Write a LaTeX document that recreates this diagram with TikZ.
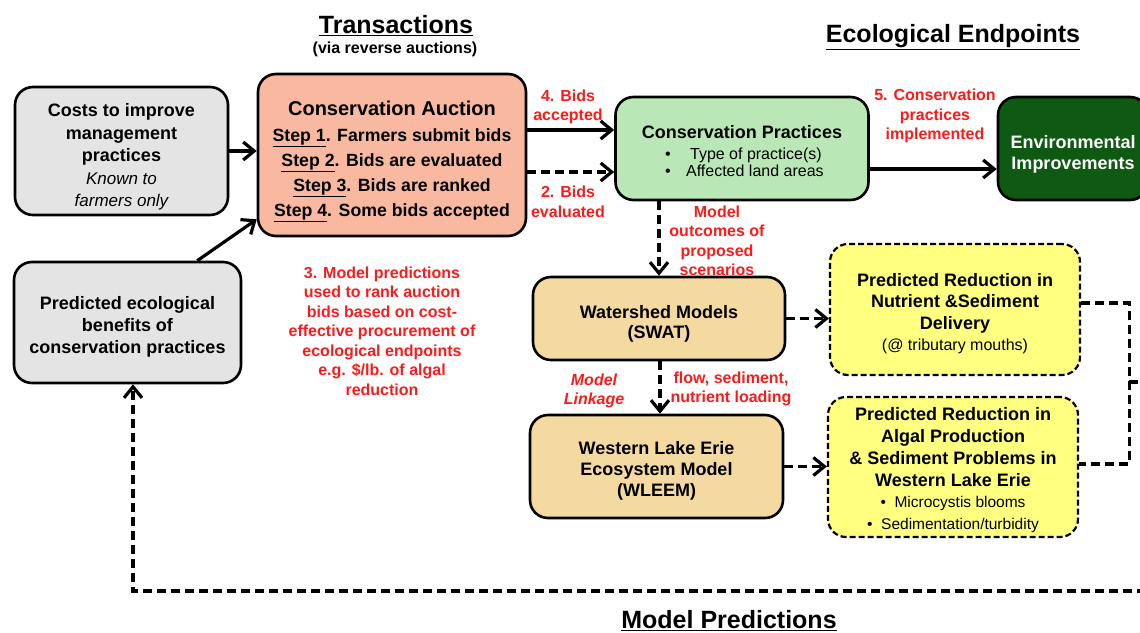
\documentclass[tikz,border=0pt]{standalone}
\usepackage{fontspec}
\setmainfont{Liberation Sans}
\usetikzlibrary{arrows.meta}
\definecolor{boxgray}{HTML}{E4E4E4}
\definecolor{salmon}{HTML}{F9B9A0}
\definecolor{lgreen}{HTML}{B9E8B6}
\definecolor{dgreen}{HTML}{0E5A12}
\definecolor{tan}{HTML}{F4DAA1}
\definecolor{yel}{HTML}{FFFF80}
\definecolor{redlab}{HTML}{FF1A1A}
\newcommand{\fs}[2]{\fontsize{#1}{#2}\selectfont}
\newcommand{\dn}[1]{\rule{0pt}{#1pt}}
\tikzset{
  box/.style={draw=black, line width=2.6pt, rounded corners=18pt, align=center, inner sep=0pt, font=\bfseries},
  dbox/.style={box, dash pattern=on 6pt off 3pt, line width=2.2pt},
  lab/.style={text=redlab, align=center, font=\bfseries\fs{16}{19.5}, inner sep=0pt},
  ttl/.style={font=\bfseries\fs{25}{30}, inner sep=0pt},
  conn/.style={line width=3.2pt},
  arrowtip/.style={-{Straight Barb[length=11pt,width=18pt]}},
  dashpat/.style={dash pattern=on 9pt off 5pt},
}
\begin{document}
\begin{tikzpicture}[x=1pt,y=-1pt]
\clip (0,0) rectangle (1140,632);
\fill[white] (0,0) rectangle (1140,632);

% titles
\node[ttl] (t1) at (396,26) {\underline{Transactions}};
\node[font=\bfseries\fs{16}{18}, inner sep=0pt] (t1s) at (395,49) {(via reverse auctions)};
\node[ttl] (t2) at (953,37) {\underline{Ecological Endpoints}};
\node[ttl] (t3) at (729,621) {\underline{Model Predictions}};

% boxes
\node[box, fill=boxgray, minimum width=213pt, minimum height=128pt, font=\bfseries\fs{18}{22.5}] (costs) at (121.5,151)
  {\dn{25}Costs to improve\\management\\practices\\{\mdseries\itshape\fs{17}{22.5}Known to}\\{\mdseries\itshape\fs{17}{22.5}farmers only}};
\node[box, fill=salmon, minimum width=268pt, minimum height=162pt, font=\bfseries\fs{17.7}{25}] (auction) at (392,155)
  {\dn{27}{\fs{20}{25}Conservation Auction}\\[1pt]\underline{Step 1}. Farmers submit bids\\\underline{Step 2}. Bids are evaluated\\\underline{Step 3}. Bids are ranked\\\underline{Step 4}. Some bids accepted};
\node[box, fill=boxgray, minimum width=227pt, minimum height=121pt, font=\bfseries\fs{18}{22}] (benefits) at (127.5,322.5)
  {\dn{21}Predicted ecological\\benefits of\\conservation practices};
\node[box, fill=lgreen, minimum width=253pt, minimum height=103pt, font=\bfseries\fs{18}{21}] (practices) at (742,148.5)
  {\dn{19}Conservation Practices\\{\mdseries\fs{16}{17}\makebox[154pt][l]{\textbullet\hspace{19.5pt}Type of practice(s)}}\\[-4pt]{\mdseries\fs{16}{17}\makebox[154pt][l]{\textbullet\hspace{15.5pt}Affected land areas}}};
\node[box, fill=dgreen, text=white, minimum width=150pt, minimum height=103pt, font=\bfseries\fs{18}{21}] (env) at (1073,148.5)
  {\dn{25}Environmental\\Improvements};
\node[box, fill=tan, minimum width=252pt, minimum height=83pt, font=\bfseries\fs{18}{20}] (ws) at (659,318.5)
  {\dn{23}Watershed Models\\(SWAT)};
\node[box, fill=tan, minimum width=253pt, minimum height=103pt, font=\bfseries\fs{18}{21}] (wleem) at (656.5,466.5)
  {\dn{21}Western Lake Erie\\Ecosystem Model\\(WLEEM)};
\node[dbox, fill=yel, minimum width=250pt, minimum height=131pt, font=\bfseries\fs{18}{21.5}] (y1) at (955,309.5)
  {\dn{21}Predicted Reduction in\\Nutrient \&Sediment\\Delivery\\{\mdseries\fs{16}{20.5}(@ tributary mouths)}};
\node[dbox, fill=yel, minimum width=250pt, minimum height=140pt, font=\bfseries\fs{18}{21.8}] (y2) at (953,467)
  {\dn{19.5}Predicted Reduction in\\Algal Production\\\& Sediment Problems in\\Western Lake Erie\\{\mdseries\fs{15.5}{21.5}\textbullet\ \ Microcystis blooms}\\{\mdseries\fs{15.5}{21}\textbullet\ \ Sedimentation/turbidity}};

% red labels
\node[lab] (l4) at (568,107) {4. Bids\\accepted};
\node[lab] (l2) at (568,202) {2. Bids\\evaluated};
\node[lab] (l5) at (935,116) {5. Conservation\\practices\\implemented};
\node[lab] (lmo) at (717,241) {Model\\outcomes of\\proposed\\scenarios};
\node[lab, font=\bfseries\itshape\fs{16}{19.5}] (lml) at (594,391) {Model\\Linkage};
\node[lab] (lfl) at (731,389) {flow, sediment,\\nutrient loading};
\node[lab] (l3) at (382,331) {3. Model predictions\\used to rank auction\\bids based on cost-\\effective procurement of\\ecological endpoints\\e.g. \$/lb. of algal\\reduction};

% connectors
\draw[conn, arrowtip] (costs.east) -- (costs.east -| auction.west);
\draw[conn, arrowtip] ([xshift=-45pt]benefits.north east) -- ([yshift=18pt]auction.south west);
\coordinate (p1) at ([yshift=18.5pt]practices.west);
\coordinate (p2) at ([yshift=-23.5pt]practices.west);
\draw[conn, arrowtip] (p1 -| auction.east) -- (p1);
\draw[conn, arrowtip, dashpat] (p2 -| auction.east) -- (p2);
\coordinate (p3) at ([yshift=-20.5pt]practices.east);
\draw[conn, arrowtip] (p3) -- (p3 -| env.west);
\coordinate (p4) at ([xshift=-83pt]practices.south);
\draw[conn, arrowtip, dashpat] (p4) -- (p4 |- ws.north);
\coordinate (p5) at ([xshift=1pt]ws.south);
\draw[conn, arrowtip, dashpat] (p5) -- (p5 |- wleem.north);
\draw[conn, arrowtip, dashpat] (ws.east) -- (ws.east -| y1.west);
\draw[conn, arrowtip, dashpat] (wleem.east) -- (wleem.east -| y2.west);
\coordinate (j1) at ([yshift=6.5pt]y1.east);
\coordinate (j2) at ([yshift=3pt]y2.east);
\draw[conn, dashpat] (j1) -- ++(48,0) |- (j2);
\coordinate (bus) at ([xshift=48pt]j1 |- 0,382);
\coordinate (busout) at (1160,382);
\draw[conn, dashpat] (bus) -- (busout);
\coordinate (fb) at (1160,591);
\draw[conn, arrowtip, dashpat] (fb) -| ([xshift=5.5pt]benefits.south);
\end{tikzpicture}
\end{document}
